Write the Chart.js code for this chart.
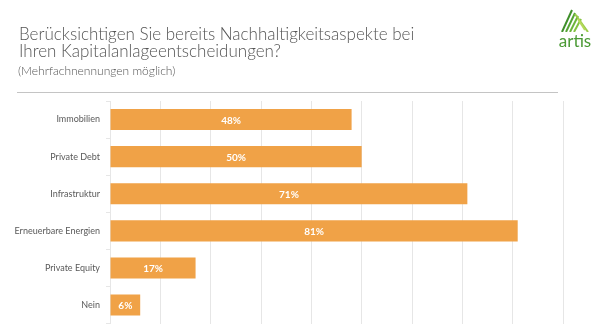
<!DOCTYPE html>
<html lang="de">
<head>
<meta charset="utf-8">
<title>Nachhaltigkeitsaspekte bei Kapitalanlageentscheidungen</title>
<script src="https://cdn.jsdelivr.net/npm/chart.js@4"></script>
<style>
  html, body { margin: 0; padding: 0; background: #fff; }
  #page { position: relative; width: 605px; height: 335px; overflow: hidden; font-family: Lato, "Open Sans", sans-serif; }
  #chart-wrap { position: absolute; left: 0; top: 0; width: 605px; height: 335px; }
  .head { position: absolute; left: 19px; top: 26px; color: #545454; }
  .head h1 { margin: 0; font-size: 17px; font-weight: 300; line-height: 16.5px; }
  .head p { margin: 4.5px 0 0 -1px; font-size: 12px; font-weight: 300; line-height: 14px; }
  .rule { position: absolute; left: 17px; top: 92px; width: 541px; height: 0; border-top: 1px solid #c4c4c4; }
  .logo { position: absolute; left: 555px; top: 7px; width: 40px; text-align: center; }
  .logo svg { display: block; margin: 0 auto; }
  .logo span { display: block; font-size: 17px; color: #4b9a35; line-height: 16px; margin-top: 1px; }
</style>
</head>
<body>
<div id="page">
  <div id="chart-wrap"><canvas id="survey-chart"></canvas></div>
  <div class="head">
    <h1>Berücksichtigen Sie bereits Nachhaltigkeitsaspekte bei<br>Ihren Kapitalanlageentscheidungen?</h1>
    <p>(Mehrfachnennungen möglich)</p>
  </div>
  <div class="rule"></div>
  <div class="logo">
    <svg width="30" height="25" viewBox="0 0 30 25">
      <g stroke-width="2" stroke-linecap="butt" fill="none">
        <line x1="2" y1="25" x2="12" y2="3" stroke="#3f8f2a"/>
        <line x1="6" y1="25" x2="15" y2="6" stroke="#55a535"/>
        <line x1="10" y1="25" x2="18" y2="9" stroke="#6cb53a"/>
        <line x1="14" y1="25" x2="21" y2="12" stroke="#84c340"/>
        <line x1="15" y1="7" x2="28" y2="25" stroke="#9ccd4a"/>
        <line x1="18" y1="12" x2="25" y2="23" stroke="#b5d95a"/>
      </g>
    </svg>
    <span>artis</span>
  </div>
</div>
<script>
  const categories = ['Immobilien', 'Private Debt', 'Infrastruktur', 'Erneuerbare Energien', 'Private Equity', 'Nein'];
  const shares = [48, 50, 71, 81, 17, 6];
  const axisMax = 90;
  const axisStep = 10;

  const barColor = '#f0a247';
  const textGrey = '#595959';

  // white percentage labels centred inside each bar
  const barValueLabels = {
    id: 'barValueLabels',
    afterDatasetsDraw(chart) {
      const ctx = chart.ctx;
      const meta = chart.getDatasetMeta(0);
      ctx.save();
      ctx.fillStyle = '#ffffff';
      ctx.font = 'bold 10px Lato, "Open Sans", sans-serif';
      ctx.textAlign = 'center';
      ctx.textBaseline = 'middle';
      meta.data.forEach((bar, i) => {
        const mid = (bar.x + bar.base) / 2;
        ctx.fillText(shares[i] + '%', mid, bar.y + 1);
      });
      ctx.restore();
    }
  };

  new Chart(document.getElementById('survey-chart'), {
    type: 'bar',
    data: {
      labels: categories,
      datasets: [{
        data: shares,
        backgroundColor: barColor,
        borderWidth: 0,
        barPercentage: 1,
        categoryPercentage: 0.57
      }]
    },
    options: {
      indexAxis: 'y',
      responsive: true,
      maintainAspectRatio: false,
      animation: false,
      layout: { padding: { left: 0, right: 42, top: 101, bottom: 9 } },
      plugins: {
        legend: { display: false },
        tooltip: { enabled: false }
      },
      scales: {
        x: {
          min: 0,
          max: axisMax,
          ticks: { display: false, stepSize: axisStep },
          grid: { color: '#e6e6e6', lineWidth: 1, drawTicks: false },
          border: { display: false },
          afterFit(scale) { scale.height = 0; }
        },
        y: {
          ticks: {
            color: textGrey,
            font: { family: 'Lato, "Open Sans", sans-serif', size: 9 },
            padding: 6
          },
          grid: { drawOnChartArea: false, drawTicks: true, tickLength: 4, color: '#e6e6e6' },
          border: { display: true, color: '#e6e6e6' },
          afterFit(scale) { scale.width = 110; }
        }
      }
    },
    plugins: [barValueLabels]
  });
</script>
</body>
</html>
